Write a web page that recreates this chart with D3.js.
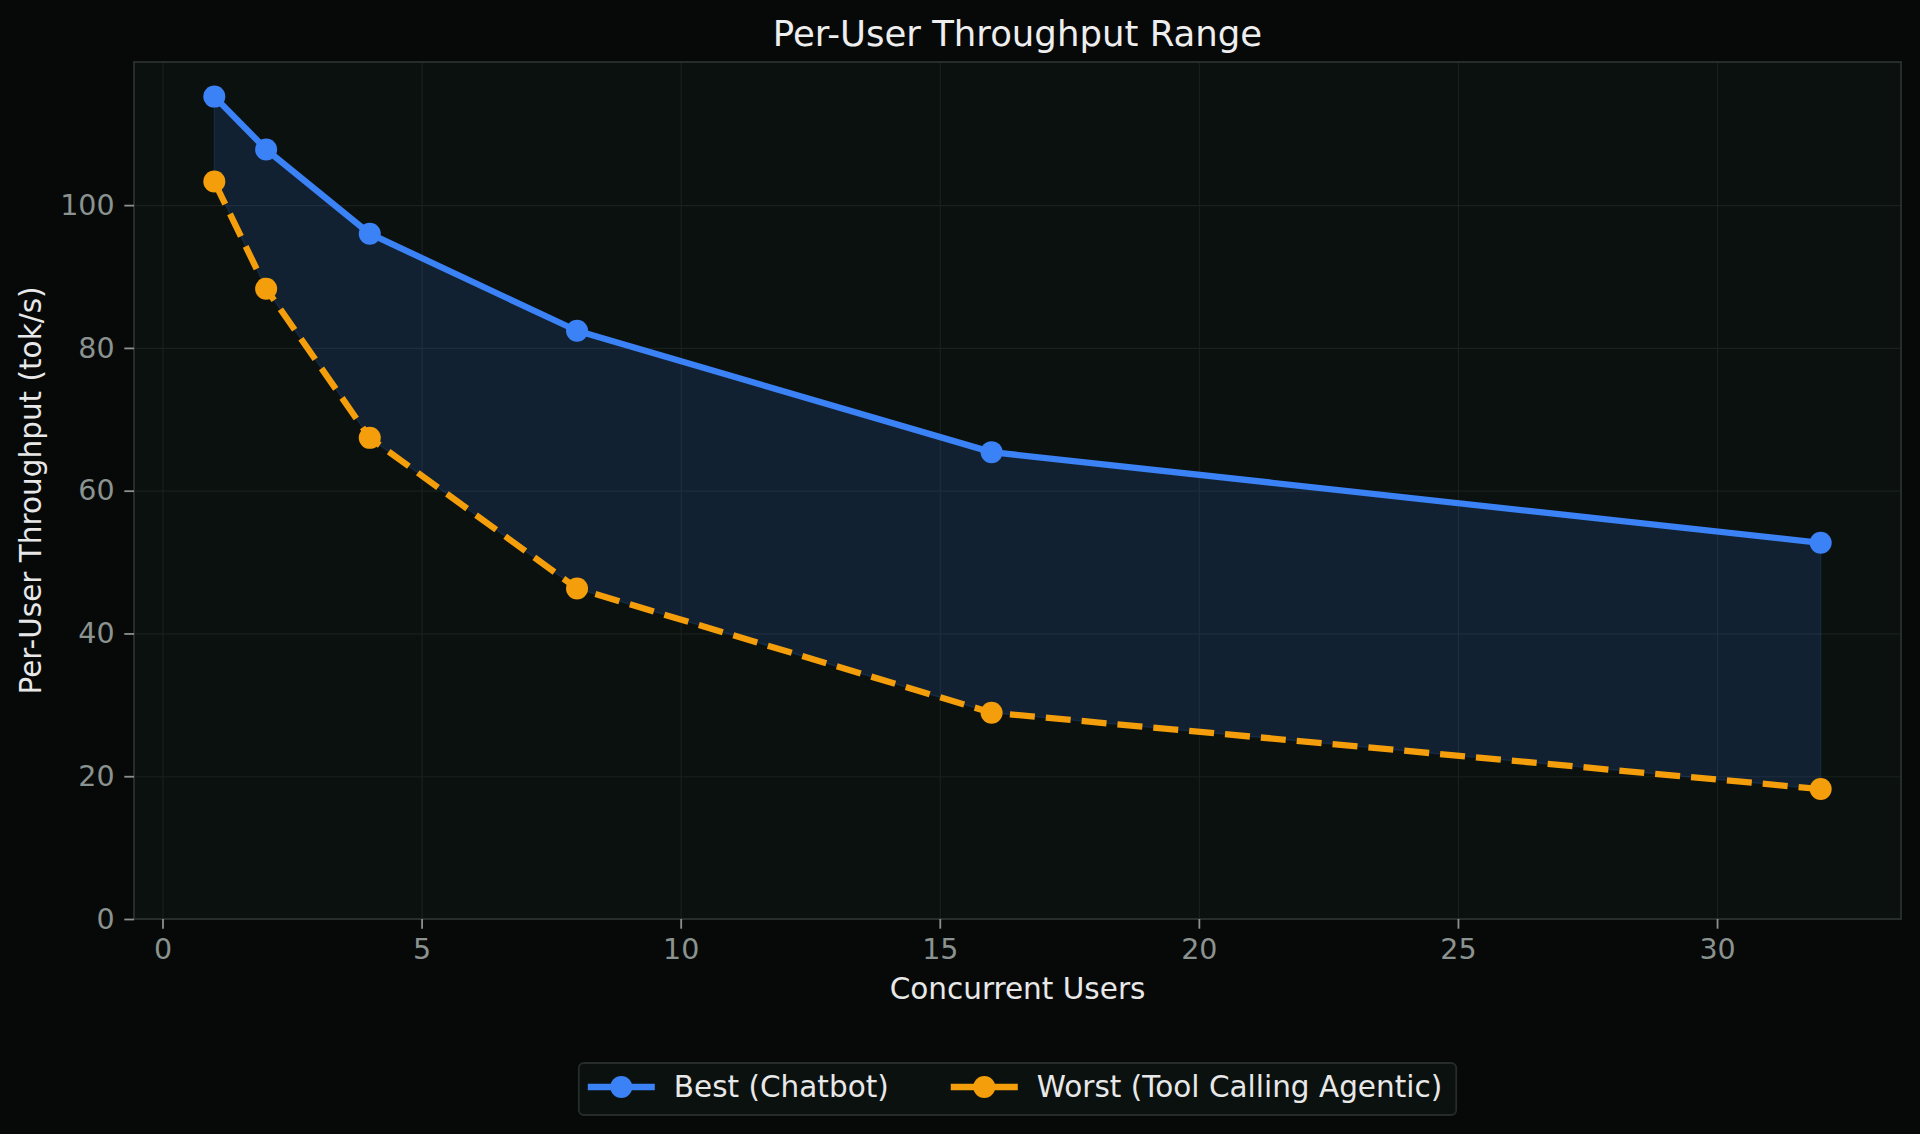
<!DOCTYPE html>
<html>
<head>
<meta charset="utf-8">
<script src="https://cdn.jsdelivr.net/npm/d3@7"></script>
<style>
  html, body { margin: 0; padding: 0; background: #060908; }
  svg { display: block; font-family: "DejaVu Sans", sans-serif; }
</style>
</head>
<body>
<div id="chart"></div>
<script>
// data
var users = [1, 2, 4, 8, 16, 32];
var best = [115.2, 107.8, 96.0, 82.4, 65.4, 52.7];
var worst = [103.3, 88.3, 67.4, 46.3, 28.9, 18.2];
var xTicks = [0, 5, 10, 15, 20, 25, 30];
var yTicks = [0, 20, 40, 60, 80, 100];
var seriesNames = ["Best (Chatbot)", "Worst (Tool Calling Agentic)"];

var width = 1920;
var height = 1134;
var margin = {left: 134, right: 19, top: 62, bottom: 215};
var plotW = width - margin.left - margin.right;
var plotH = height - margin.top - margin.bottom;

var blue = "#3b82f6";
var orange = "#f59e0b";
var lw = 6.3;
var r = 11;

var svg = d3.select("#chart")
    .append("svg")
    .attr("width", width)
    .attr("height", height);

svg.append("rect")
    .attr("width", width)
    .attr("height", height)
    .attr("fill", "#060908");

// matplotlib style 5% margins on x, y starts at 0
var xPad = (d3.max(users) - d3.min(users)) * 0.05;
var x = d3.scaleLinear()
    .domain([d3.min(users) - xPad, d3.max(users) + xPad])
    .range([0, plotW]);

var yMax = d3.max(best), yMin = d3.min(worst);
var y = d3.scaleLinear()
    .domain([0, yMax + (yMax - yMin) * 0.05])
    .range([plotH, 0]);

var g = svg.append("g")
    .attr("transform", "translate(" + margin.left + "," + margin.top + ")");

g.append("rect")
    .attr("width", plotW)
    .attr("height", plotH)
    .attr("fill", "#0b110f");

// grid
g.append("g")
    .attr("transform", "translate(0," + plotH + ")")
    .call(d3.axisBottom(x).tickValues(xTicks).tickSize(-plotH).tickFormat(""))
    .call(function(s) {
        s.select(".domain").remove();
        s.selectAll("line").attr("stroke", "#19201e").attr("stroke-width", 1.2);
    });
g.append("g")
    .call(d3.axisLeft(y).tickValues(yTicks).tickSize(-plotW).tickFormat(""))
    .call(function(s) {
        s.select(".domain").remove();
        s.selectAll("line").attr("stroke", "#19201e").attr("stroke-width", 1.2);
    });

var rows = users.map(function(u, i) {
    return {x: u, best: best[i], worst: worst[i]};
});

// shaded range between the two series
var area = d3.area()
    .x(function(d) { return x(d.x); })
    .y0(function(d) { return y(d.worst); })
    .y1(function(d) { return y(d.best); });

g.append("path")
    .datum(rows)
    .attr("d", area)
    .attr("fill", blue)
    .attr("fill-opacity", 0.15)
    .attr("stroke", blue)
    .attr("stroke-opacity", 0.15)
    .attr("stroke-width", 1.5);

function drawSeries(key, color, dash) {
    var line = d3.line()
        .x(function(d) { return x(d.x); })
        .y(function(d) { return y(d[key]); });
    g.append("path")
        .datum(rows)
        .attr("d", line)
        .attr("fill", "none")
        .attr("stroke", color)
        .attr("stroke-width", lw)
        .attr("stroke-linejoin", "round")
        .attr("stroke-dasharray", dash);
    g.selectAll("circle." + key)
        .data(rows)
        .enter()
        .append("circle")
        .attr("class", key)
        .attr("cx", function(d) { return x(d.x); })
        .attr("cy", function(d) { return y(d[key]); })
        .attr("r", r)
        .attr("fill", color);
}
drawSeries("best", blue, null);
drawSeries("worst", orange, "25,11");

// spines
g.append("rect")
    .attr("width", plotW)
    .attr("height", plotH)
    .attr("fill", "none")
    .attr("stroke", "#2a312f")
    .attr("stroke-width", 1.8);

// axes
var xAxis = g.append("g")
    .attr("transform", "translate(0," + plotH + ")")
    .call(d3.axisBottom(x).tickValues(xTicks).tickSize(9.7).tickPadding(9.7).tickFormat(d3.format("d")));
var yAxis = g.append("g")
    .call(d3.axisLeft(y).tickValues(yTicks).tickSize(9.7).tickPadding(9.7).tickFormat(d3.format("d")));

[xAxis, yAxis].forEach(function(a) {
    a.select(".domain").remove();
    a.selectAll("line").attr("stroke", "#8a918f").attr("stroke-width", 1.8);
    a.selectAll("text")
        .attr("fill", "#8b9390")
        .attr("font-size", "28.5px")
        .attr("font-family", "DejaVu Sans, sans-serif");
});

// title and labels
svg.append("text")
    .attr("x", margin.left + plotW / 2)
    .attr("y", 46)
    .attr("text-anchor", "middle")
    .attr("fill", "#eeeeee")
    .attr("font-size", "35.5px")
    .text("Per-User Throughput Range");

svg.append("text")
    .attr("x", margin.left + plotW / 2)
    .attr("y", 999)
    .attr("text-anchor", "middle")
    .attr("fill", "#e8e8e8")
    .attr("font-size", "29.5px")
    .text("Concurrent Users");

svg.append("text")
    .attr("transform", "translate(41," + (margin.top + plotH / 2) + ") rotate(-90)")
    .attr("text-anchor", "middle")
    .attr("fill", "#e8e8e8")
    .attr("font-size", "29.5px")
    .text("Per-User Throughput (tok/s)");

// legend below the plot
var legend = svg.append("g");
var legBox = legend.append("rect")
    .attr("y", 1063)
    .attr("height", 52)
    .attr("rx", 5)
    .attr("fill", "#0b110f")
    .attr("stroke", "#252c2a")
    .attr("stroke-width", 1.8);

var legColors = [blue, orange];
var cursor = 9;
seriesNames.forEach(function(name, i) {
    var item = legend.append("g");
    item.append("line")
        .attr("x1", cursor).attr("x2", cursor + 67)
        .attr("y1", 1087).attr("y2", 1087)
        .attr("stroke", legColors[i])
        .attr("stroke-width", lw);
    item.append("circle")
        .attr("cx", cursor + 33.5)
        .attr("cy", 1087)
        .attr("r", r)
        .attr("fill", legColors[i]);
    var t = item.append("text")
        .attr("x", cursor + 86)
        .attr("y", 1097)
        .attr("fill", "#e8e8e8")
        .attr("font-size", "29.5px")
        .text(name);
    cursor += 86 + t.node().getComputedTextLength() + 62;
});
var boxW = cursor - 62 + 14;
var boxX = margin.left + plotW / 2 - boxW / 2;
legBox.attr("x", boxX).attr("width", boxW);
legend.selectAll("g").attr("transform", "translate(" + boxX + ",0)");
</script>
</body>
</html>
